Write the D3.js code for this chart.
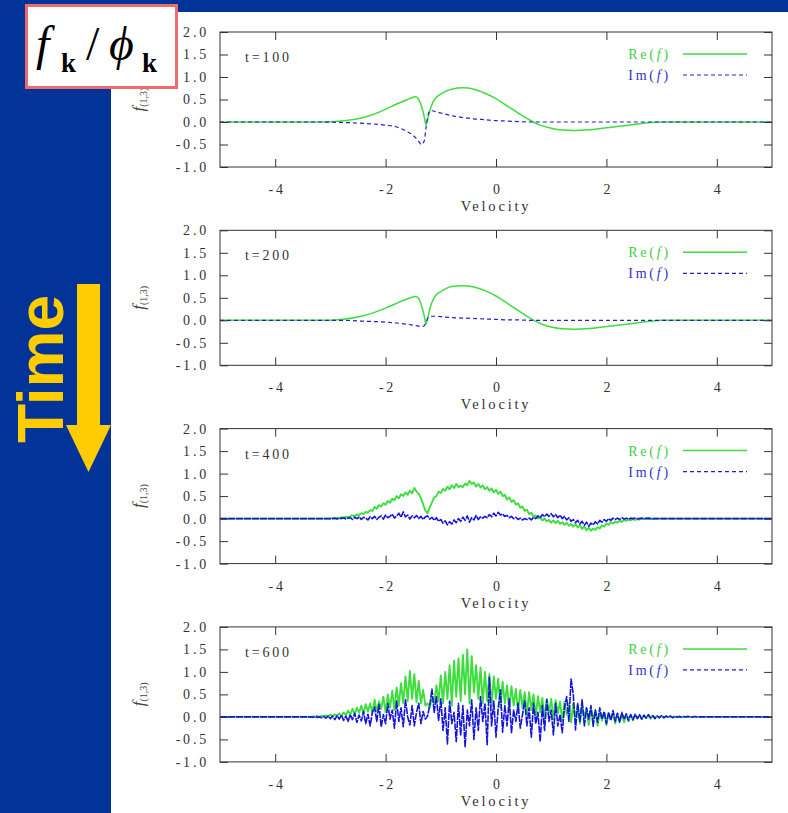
<!DOCTYPE html>
<html>
<head>
<meta charset="utf-8">
<script src="https://cdn.jsdelivr.net/npm/d3@7"></script>
<style>
body { margin: 0; background: #023399; }
svg { display: block; }
.axis text { font-family: "Liberation Serif", "Times New Roman", serif; font-size: 14px; fill: #333; letter-spacing: 2.8px; }
.lbl { font-family: "Liberation Serif", "Times New Roman", serif; font-size: 14px; fill: #333; letter-spacing: 2.8px; }
</style>
</head>
<body>
<svg id="chart" width="788" height="813"></svg>
<script>
var times = ["t=100", "t=200", "t=400", "t=600"];
var xTicks = [-4, -2, 0, 2, 4];
var yTicks = [-1.0, -0.5, 0.0, 0.5, 1.0, 1.5, 2.0];

// t=100 and t=200 are smooth, read at these velocities
var velSmooth = [-5, -3.2, -2.8, -2.4, -2.0, -1.8, -1.6, -1.5, -1.45, -1.4, -1.35, -1.3, -1.27, -1.24, -1.2, -1.15, -1.1, -1.0, -0.9, -0.8,
  -0.6, -0.4, -0.2, 0, 0.2, 0.4, 0.6, 0.8, 1.0, 1.2, 1.4, 1.6, 1.8, 2.0, 2.2, 2.4, 2.6, 2.8, 3.0, 5];
var re100 = [0, 0, 0.02, 0.1, 0.28, 0.4, 0.5, 0.55, 0.56, 0.5, 0.35, 0.12, -0.06, 0.05, 0.25, 0.42, 0.52, 0.62, 0.69, 0.73,
  0.76, 0.73, 0.64, 0.52, 0.36, 0.2, 0.05, -0.07, -0.14, -0.18, -0.19, -0.18, -0.16, -0.13, -0.1, -0.07, -0.04, -0.01, 0, 0];
var im100 = [0, 0, -0.01, -0.03, -0.07, -0.11, -0.22, -0.3, -0.36, -0.43, -0.5, -0.42, -0.15, 0.1, 0.24, 0.25, 0.23, 0.2, 0.17, 0.14,
  0.1, 0.07, 0.05, 0.03, 0.02, 0.01, 0, 0, 0, 0, 0, 0, 0, 0, 0, 0, 0, 0, 0, 0];
var re200 = [0, 0, 0.02, 0.1, 0.27, 0.38, 0.48, 0.52, 0.53, 0.48, 0.33, 0.1, -0.08, 0.03, 0.25, 0.43, 0.54, 0.64, 0.71, 0.75,
  0.77, 0.74, 0.66, 0.54, 0.38, 0.22, 0.06, -0.07, -0.15, -0.19, -0.2, -0.19, -0.17, -0.14, -0.11, -0.08, -0.05, -0.02, 0, 0];
var im200 = [0, 0, 0, -0.02, -0.04, -0.06, -0.09, -0.11, -0.12, -0.13, -0.14, -0.12, -0.05, 0.04, 0.08, 0.09, 0.09, 0.08, 0.07, 0.06,
  0.05, 0.04, 0.03, 0.02, 0.01, 0.01, 0, 0, 0, 0, 0, 0, 0, 0, 0, 0, 0, 0, 0, 0];

// t=400: one value every 0.04 from v=-3.0
var start400 = -3.0;
var re400 = [
  0, 0.01, 0, 0.02, 0.01, 0.03, 0.02, 0.04, 0.03, 0.05,
  0.07, 0.05, 0.09, 0.08, 0.12, 0.1, 0.15, 0.13, 0.19, 0.17,
  0.26, 0.22, 0.3, 0.27, 0.34, 0.31, 0.39, 0.35, 0.44, 0.41,
  0.5, 0.45, 0.54, 0.5, 0.58, 0.53, 0.62, 0.56, 0.68, 0.6,
  0.55, 0.46, 0.32, 0.18, 0.12, 0.25, 0.36, 0.47, 0.5, 0.6,
  0.57, 0.66, 0.62, 0.71, 0.65, 0.74, 0.68, 0.77, 0.7, 0.73,
  0.7, 0.78, 0.74, 0.84, 0.77, 0.8, 0.71, 0.77, 0.69, 0.74,
  0.65, 0.7, 0.62, 0.67, 0.58, 0.64, 0.55, 0.6, 0.5, 0.53,
  0.42, 0.47, 0.37, 0.41, 0.31, 0.34, 0.24, 0.27, 0.17, 0.2,
  0.1, 0.13, 0.05, 0.07, 0.0, 0.03, -0.04, 0.0, -0.06, -0.03,
  -0.09, -0.04, -0.1, -0.05, -0.12, -0.08, -0.14, -0.09, -0.16, -0.12,
  -0.18, -0.12, -0.2, -0.15, -0.23, -0.18, -0.26, -0.2, -0.27, -0.22,
  -0.25, -0.19, -0.22, -0.15, -0.18, -0.11, -0.14, -0.08, -0.11, -0.07,
  -0.09, -0.05, -0.07, -0.03, -0.05, -0.02, -0.04, -0.01, -0.03, -0.01,
  -0.02, 0, -0.01, 0.01, -0.01, 0, -0.01, 0, 0, 0,
  0];
var im400 = [
  0, 0, 0.01, -0.01, 0.01, 0, 0.02, -0.01, 0.01, 0.02,
  -0.02, 0.03, 0, 0.04, -0.02, 0.03, 0.01, -0.03, 0.04, 0.0,
  0.05, -0.02, 0.03, 0.06, -0.01, 0.08, 0.02, 0.05, 0.1, 0.01,
  0.06, 0.12, 0.03, 0.15, 0.04, 0.08, -0.01, 0.06, 0.02, 0.07,
  0.0, 0.05, -0.02, 0.04, 0.06, -0.01, 0.03, -0.04, 0.02, -0.06,
  -0.02, -0.1, -0.05, -0.14, -0.07, -0.12, -0.03, -0.09, 0.0, -0.06,
  0.03, -0.04, 0.06, -0.08, 0.02, -0.03, 0.07, -0.02, 0.04, 0.01,
  0.05, 0.02, 0.09, 0.04, 0.12, 0.06, 0.14, 0.08, 0.1, 0.05,
  0.07, 0.02, 0.05, 0.0, 0.03, -0.02, 0.01, -0.03, 0.0, -0.02,
  0.01, -0.03, 0.03, 0.0, 0.06, 0.02, 0.09, 0.04, 0.1, 0.05,
  0.11, 0.04, 0.09, 0.02, 0.08, 0.0, 0.05, -0.03, 0.02, -0.06,
  -0.02, -0.09, -0.04, -0.12, -0.06, -0.15, -0.08, -0.17, -0.1, -0.14,
  -0.07, -0.12, -0.04, -0.08, -0.02, -0.06, 0.0, -0.04, 0.01, -0.02,
  0.01, -0.02, 0.02, -0.01, 0.01, -0.01, 0.01, 0, 0.01, 0,
  0, 0.01, 0, 0, 0.01, 0, 0, 0, 0, 0,
  0];

// t=600: one value every 0.04 from v=-3.4
var start600 = -3.4;
var re600 = [
  0, 0, 0.01, 0, 0.02, 0, 0.02, 0.01, 0.03, 0.01,
  0.05, 0.01, 0.06, 0.02, 0.08, 0.03, 0.1, 0.04, 0.14, 0.05,
  0.18, 0.06, 0.2, 0.09, 0.25, 0.07, 0.28, 0.12, 0.3, 0.1,
  0.38, 0.12, 0.35, 0.18, 0.45, 0.1, 0.5, 0.2, 0.58, 0.15,
  0.65, 0.25, 0.75, 0.3, 0.9, 0.35, 1.02, 0.4, 0.95, 0.32,
  0.8, 0.3, 0.6, 0.25, 0.3, 0.2, 0.45, 0.3, 0.7, 0.35,
  0.92, 0.3, 1.0, 0.4, 1.15, 0.25, 1.25, 0.45, 1.3, 0.35,
  1.38, 0.5, 1.5, 0.3, 1.35, 0.55, 1.15, 0.4, 1.1, 0.3,
  1.0, 0.35, 0.95, 0.25, 0.9, 0.4, 0.85, 0.2, 0.78, 0.3,
  0.7, 0.15, 0.68, 0.25, 0.62, 0.1, 0.6, 0.2, 0.55, 0.05,
  0.55, 0.15, 0.5, 0.0, 0.46, 0.1, 0.42, -0.05, 0.4, 0.1,
  0.4, -0.05, 0.37, 0.08, 0.34, -0.1, 0.33, 0.05, 0.3, -0.12,
  0.3, -0.05, 0.26, -0.15, 0.25, 0.0, 0.2, -0.18, 0.18, -0.05,
  0.15, -0.2, 0.12, -0.08, 0.1, -0.18, 0.09, -0.05, 0.08, -0.15,
  0.07, -0.1, 0.06, -0.12, 0.05, -0.04, 0.05, -0.08, 0.04, -0.03,
  0.04, -0.05, 0.03, -0.02, 0.03, -0.04, 0.02, -0.01, 0.02, -0.02,
  0.02, -0.01, 0.01, -0.01, 0.01, 0, 0.01, 0, 0.01, 0,
  0, 0, 0.01, 0, 0, 0, 0, 0, 0, 0,
  0];
var im600 = [
  0, 0, -0.01, 0.01, -0.01, 0, -0.02, 0.01, -0.03, 0.02,
  -0.04, 0.02, -0.06, 0.03, -0.05, 0.04, -0.08, 0.02, -0.1, 0.05,
  -0.06, 0.08, -0.12, 0.04, -0.09, 0.12, -0.15, 0.06, -0.2, 0.1,
  0.22, -0.1, 0.28, -0.22, 0.05, -0.15, 0.3, -0.05, 0.15, -0.25,
  0.35, -0.1, 0.2, -0.22, 0.38, 0.0, -0.18, 0.25, -0.2, 0.1,
  0.3, -0.15, 0.12, -0.05, 0.02, 0.25, 0.62, 0.1, 0.45, -0.08,
  0.4, -0.3, 0.2, -0.6, 0.35, -0.15, 0.1, -0.55, 0.3, -0.4,
  0.25, -0.66, 0.15, -0.2, 0.38, -0.5, 0.2, -0.3, 0.45, -0.1,
  0.3, -0.62, 0.88, -0.2, 0.35, -0.45, 0.2, 0.6, -0.34, 0.25,
  -0.2, 0.4, -0.35, 0.15, -0.1, 0.3, -0.25, 0.05, 0.35, -0.2,
  0.2, -0.45, 0.3, -0.15, 0.1, -0.55, 0.25, -0.3, 0.38, -0.1,
  0.15, -0.4, 0.3, -0.2, 0.05, -0.35, 0.2, 0.45, -0.1, 0.84,
  0.5, -0.29, 0.3, -0.1, 0.38, -0.2, 0.2, -0.05, 0.25, -0.21,
  0.15, -0.12, 0.2, -0.05, 0.12, -0.15, 0.1, -0.08, 0.14, -0.1,
  0.08, -0.12, 0.1, -0.05, 0.07, -0.09, 0.05, -0.06, 0.06, -0.04,
  0.05, -0.05, 0.04, -0.03, 0.05, -0.02, 0.03, -0.04, 0.02, -0.02,
  0.03, -0.02, 0.02, -0.01, 0.02, -0.02, 0.01, -0.01, 0.01, -0.01,
  0.01, 0, 0.01, -0.01, 0, 0.01, 0, 0, 0, 0,
  0];
var gridStep = 0.04;

var reColor = "#3ddd3d", imColor = "#2020c8", imNoisy = "#1414dc";

// pair up velocities and values; grid series get the flat tails out to +-5
function smoothPairs(vals) {
  return velSmooth.map(function (v, i) { return [v, vals[i]]; });
}
function gridPairs(start, vals) {
  var pts = vals.map(function (d, i) { return [start + i * gridStep, d]; });
  return [[-5, 0]].concat(pts, [[5, 0]]);
}

var panels = [
  { label: times[0], re: smoothPairs(re100), im: smoothPairs(im100), smooth: true },
  { label: times[1], re: smoothPairs(re200), im: smoothPairs(im200), smooth: true },
  { label: times[2], re: gridPairs(start400, re400), im: gridPairs(start400, im400), smooth: false },
  { label: times[3], re: gridPairs(start600, re600), im: gridPairs(start600, im600), smooth: false }
];

var svg = d3.select("#chart");
var plotLeft = 220, plotW = 552, plotH = 135, firstTop = 32, step = 198.3;

// slide background
svg.append("rect").attr("width", 788).attr("height", 813).attr("fill", "#023399");
svg.append("rect").attr("x", 111).attr("y", 12).attr("width", 677).attr("height", 801).attr("fill", "#fff");

var x = d3.scaleLinear().domain([-5, 5]).range([0, plotW]);
var y = d3.scaleLinear().domain([-1, 2]).range([plotH, 0]);

panels.forEach(function (p, i) {
  var top = firstTop + i * step;
  var g = svg.append("g").attr("transform", "translate(" + plotLeft + "," + top + ")");

  // data
  var line = d3.line()
    .x(function (d) { return x(d[0]); })
    .y(function (d) { return y(d[1]); })
    .curve(p.smooth ? d3.curveMonotoneX : d3.curveLinear);

  g.append("path").datum(p.re)
    .attr("d", line).attr("fill", "none").attr("stroke-linejoin", "round")
    .attr("stroke", reColor).attr("stroke-width", p.smooth ? 1.5 : 1.9);
  g.append("path").datum(p.im)
    .attr("d", line).attr("fill", "none").attr("stroke-linejoin", "round")
    .attr("stroke", p.smooth ? imColor : imNoisy).attr("stroke-width", p.smooth ? 1.2 : 1.6)
    .attr("stroke-dasharray", p.smooth ? "4,3" : "7,1");

  // gnuplot style inward ticks on all 4 sides
  g.append("g").attr("class", "axis").attr("color", "#333")
    .call(d3.axisLeft(y).tickValues(yTicks).tickSize(-8).tickPadding(11)
      .tickFormat(function (d) { return d.toFixed(1); }))
    .call(function (a) { a.select(".domain").remove(); });
  g.append("g").attr("class", "axis").attr("color", "#333")
    .attr("transform", "translate(" + plotW + ",0)")
    .call(d3.axisRight(y).tickValues(yTicks).tickSize(-8).tickFormat(""))
    .call(function (a) { a.select(".domain").remove(); });
  g.append("g").attr("class", "axis").attr("color", "#333")
    .call(d3.axisTop(x).tickValues(xTicks).tickSize(-8).tickFormat(""))
    .call(function (a) { a.select(".domain").remove(); });
  g.append("g").attr("class", "axis").attr("color", "#333")
    .attr("transform", "translate(0," + plotH + ")")
    .call(d3.axisBottom(x).tickValues(xTicks).tickSize(-8).tickPadding(17)
      .tickFormat(function (d) { return String(d); }))
    .call(function (a) { a.select(".domain").remove(); a.selectAll("text").attr("dx", "1.4"); });

  g.append("rect").attr("width", plotW).attr("height", plotH)
    .attr("fill", "none").attr("stroke", "#333").attr("stroke-width", 1);

  // time label
  g.append("text").attr("class", "lbl").attr("x", 25).attr("y", 30).text(p.label);

  // legend
  var re = g.append("text").attr("class", "lbl").attr("x", 451).attr("y", 27)
    .attr("text-anchor", "end").style("fill", "#44cc44");
  re.append("tspan").text("Re(");
  re.append("tspan").attr("font-style", "italic").text("f");
  re.append("tspan").text(")");
  g.append("line").attr("x1", 463).attr("x2", 527).attr("y1", 22).attr("y2", 22)
    .attr("stroke", reColor).attr("stroke-width", 1.5);
  var im = g.append("text").attr("class", "lbl").attr("x", 451).attr("y", 48)
    .attr("text-anchor", "end").style("fill", "#3333bb");
  im.append("tspan").text("Im(");
  im.append("tspan").attr("font-style", "italic").text("f");
  im.append("tspan").text(")");
  g.append("line").attr("x1", 463).attr("x2", 527).attr("y1", 43).attr("y2", 43)
    .attr("stroke", imColor).attr("stroke-width", 1.2).attr("stroke-dasharray", "4,3");

  // axis titles
  g.append("text").attr("class", "lbl")
    .attr("x", x(0)).attr("y", plotH + 44).attr("text-anchor", "middle")
    .style("font-size", "14.5px").style("letter-spacing", "2.8px")
    .text("Velocity");

  var yl = g.append("text")
    .attr("transform", "translate(" + (-76) + "," + (plotH / 2) + ") rotate(-90)")
    .attr("text-anchor", "middle")
    .style("font-family", "Liberation Serif, Times New Roman, serif").style("fill", "#444");
  yl.append("tspan").attr("font-style", "italic").attr("font-size", 17).text("f");
  yl.append("tspan").attr("font-size", 10).attr("dy", 3).text("(1,3)");
});

// formula box, top left
svg.append("rect").attr("x", 26.5).attr("y", 5.5).attr("width", 150).attr("height", 82)
  .attr("fill", "#fff").attr("stroke", "#f06c6c").attr("stroke-width", 3);
var ft = svg.append("text").style("font-family", "Liberation Serif, Times New Roman, serif").attr("fill", "#000");
ft.append("tspan").attr("x", 36).attr("y", 60).attr("font-style", "italic").attr("font-size", 48).text("f");
ft.append("tspan").attr("x", 61).attr("y", 72).attr("font-weight", "bold").attr("font-size", 27).text("k");
ft.append("tspan").attr("x", 86).attr("y", 60).attr("font-size", 48).text("/");
ft.append("tspan").attr("x", 109).attr("y", 60).attr("font-style", "italic").attr("font-size", 48).text("\u03d5");
ft.append("tspan").attr("x", 142).attr("y", 72).attr("font-weight", "bold").attr("font-size", 27).text("k");

// Time arrow
var yellow = "#ffcc00";
svg.append("rect").attr("x", 77).attr("y", 284).attr("width", 23).attr("height", 142).attr("fill", yellow);
svg.append("path").attr("d", "M66,425L111,425L88.5,472Z").attr("fill", yellow);
svg.append("text").attr("transform", "translate(63,369) rotate(-90)")
  .attr("text-anchor", "middle")
  .style("font-family", "Liberation Sans, Arial, sans-serif").style("font-weight", "bold")
  .style("font-size", "64px").attr("fill", yellow).text("Time");
</script>
</body>
</html>
